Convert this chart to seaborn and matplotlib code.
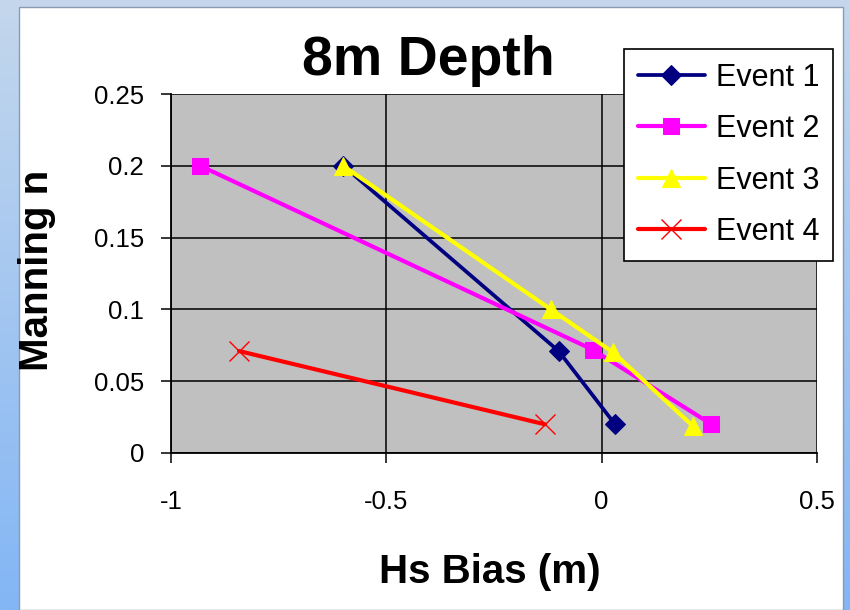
import numpy as np
import pandas as pd
import matplotlib
matplotlib.use("Agg")
import matplotlib.pyplot as plt
import matplotlib.colors as mcolors
from matplotlib.patches import Rectangle
import seaborn as sns

# ---- data ----
events = ["Event 1", "Event 2", "Event 3", "Event 4"]
e1_x = [-0.60, -0.10, 0.031]
e1_y = [0.20, 0.071, 0.020]
e2_x = [-0.932, -0.021, 0.255]
e2_y = [0.20, 0.072, 0.020]
e3_x = [-0.60, -0.118, 0.027, 0.211]
e3_y = [0.20, 0.10, 0.070, 0.019]
e4_x = [-0.842, -0.132]
e4_y = [0.071, 0.020]
x_ticks = [-1, -0.5, 0, 0.5]
x_tick_labels = ["-1", "-0.5", "0", "0.5"]
y_ticks = [0, 0.05, 0.1, 0.15, 0.2, 0.25]
y_tick_labels = ["0", "0.05", "0.1", "0.15", "0.2", "0.25"]

frames = []
for name, xs, ys in zip(events, [e1_x, e2_x, e3_x, e4_x], [e1_y, e2_y, e3_y, e4_y]):
    frames.append(pd.DataFrame({"event": name, "x": xs, "y": ys}))
df = pd.concat(frames, ignore_index=True)

sns.set_theme(style="white")
plt.rcParams["font.family"] = ["Liberation Sans", "DejaVu Sans"]

W, H = 850, 610
fig = plt.figure(figsize=(8.5, 6.1), dpi=100)

# background gradient
bg = fig.add_axes([0, 0, 1, 1], zorder=-10)
c_top = np.array(mcolors.to_rgb("#C4D7EC"))
c_bot = np.array(mcolors.to_rgb("#83B6F5"))
t = np.linspace(0, 1, 256)[:, None]
grad = c_top[None, :] * (1 - t) + c_bot[None, :] * t
img = np.repeat(grad[:, None, :], 4, axis=1)
bg.imshow(img, aspect="auto", extent=[0, 1, 0, 1], origin="upper")
bg.add_patch(Rectangle((19 / W, 0), (843 - 19) / W, (610 - 7) / H,
                       facecolor="white", edgecolor="#8A9BB0", linewidth=1.0))
bg.set_xlim(0, 1)
bg.set_ylim(0, 1)
bg.axis("off")

left, right = 171 / W, 817 / W
bottom, top = (H - 453) / H, (H - 94) / H
ax = fig.add_axes([left, bottom, right - left, top - bottom])
ax.set_facecolor("#C0C0C0")

styles = {
    "Event 1": dict(color="#000080", marker="D", markersize=10, linewidth=2.7,
                    markeredgecolor="#000080"),
    "Event 2": dict(color="#FF00FF", marker="s", markersize=12, linewidth=3.0,
                    markeredgecolor="#FF00FF"),
    "Event 3": dict(color="#FFFF00", marker="^", markersize=13, linewidth=3.0,
                    markeredgecolor="#FFFF00"),
    "Event 4": dict(color="#FF0000", marker="x", markersize=14, linewidth=3.0,
                    markeredgecolor="#FF0000", markeredgewidth=1.0),
}
for i, name in enumerate(events):
    sub = df[df["event"] == name]
    sns.lineplot(data=sub, x="x", y="y", ax=ax, sort=False, label=name,
                 estimator=None, zorder=3 + i, **styles[name])

ax.set_xlim(-1, 0.5)
ax.set_ylim(0, 0.25)
ax.set_xticks(x_ticks)
ax.set_xticklabels(x_tick_labels)
ax.set_yticks(y_ticks)
ax.set_yticklabels(y_tick_labels)
ax.grid(True, color="black", linewidth=1.1)
ax.set_axisbelow(True)
for s in ["top", "right"]:
    ax.spines[s].set_visible(False)
for s in ["left", "bottom"]:
    ax.spines[s].set_color("black")
    ax.spines[s].set_linewidth(1.3)
ax.tick_params(axis="both", which="major", direction="out", length=7.5, width=1.1,
               color="black", labelsize=18.5, labelcolor="black",
               bottom=True, left=True)
ax.tick_params(axis="x", pad=19)
ax.tick_params(axis="y", pad=12)
ax.set_xlabel("")
ax.set_ylabel("")

fig.text(428 / W, 1 - 61 / H, "8m Depth", ha="center", va="center",
         fontsize=40, fontweight="bold", color="black")
fig.text(490 / W, 1 - 572 / H, "Hs Bias (m)", ha="center", va="center",
         fontsize=29, fontweight="bold", color="black")
fig.text(37 / W, 1 - 270 / H, "Manning n", ha="center", va="center",
         rotation=90, fontsize=29, fontweight="bold", color="black")

handles, labels = ax.get_legend_handles_labels()
leg = ax.legend(handles, labels, loc="upper right",
                bbox_to_anchor=(833 / W, 1 - 49 / H), bbox_transform=fig.transFigure,
                fontsize=22, frameon=True, fancybox=False, shadow=False,
                handlelength=2.2, handletextpad=0.35, labelspacing=0.7,
                borderpad=0.45, borderaxespad=0)
leg.get_frame().set_edgecolor("black")
leg.get_frame().set_linewidth(1.2)
leg.get_frame().set_facecolor("white")
leg.get_frame().set_alpha(1)
for txt in leg.get_texts():
    txt.set_color("black")

fig.savefig("out.png", dpi=100)
